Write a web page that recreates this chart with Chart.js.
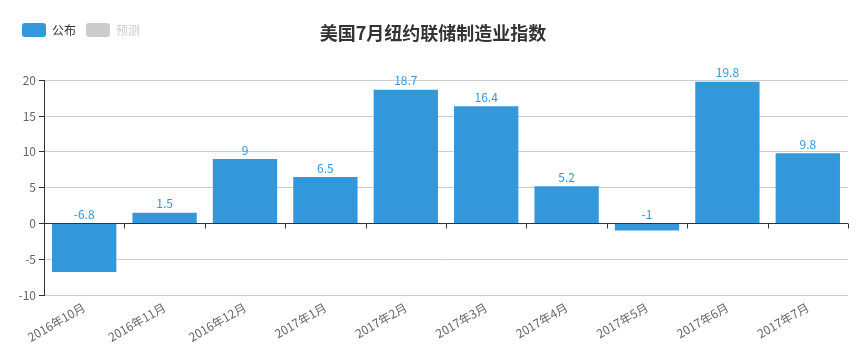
<!DOCTYPE html>
<html>
<head>
<meta charset="utf-8">
<script src="https://cdn.jsdelivr.net/npm/chart.js@4"></script>
<style>
  html, body { margin: 0; padding: 0; background: #fff; }
  #wrap { width: 855px; height: 359px; position: relative; }
</style>
</head>
<body>
<div id="wrap"><canvas id="chart"></canvas></div>
<script>
const title = "美国7月纽约联储制造业指数";
const months = ["2016年10月", "2016年11月", "2016年12月", "2017年1月", "2017年2月",
  "2017年3月", "2017年4月", "2017年5月", "2017年6月", "2017年7月"];
const published = [-6.8, 1.5, 9, 6.5, 18.7, 16.4, 5.2, -1, 19.8, 9.8];
const forecast = [];
const yTicks = [-10, -5, 0, 5, 10, 15, 20];

const FONT = "'Microsoft YaHei', 'Noto Sans CJK SC', sans-serif";
const BLUE = "#3398DB";

// value labels above each bar (negatives sit on the zero line)
const valueLabels = {
  id: "valueLabels",
  afterDatasetsDraw(chart) {
    const ctx = chart.ctx;
    const y = chart.scales.y;
    const meta = chart.getDatasetMeta(0);
    ctx.save();
    ctx.font = "12px " + FONT;
    ctx.fillStyle = BLUE;
    ctx.textAlign = "center";
    ctx.textBaseline = "bottom";
    meta.data.forEach((bar, i) => {
      const v = published[i];
      ctx.fillText(String(v), bar.x, y.getPixelForValue(Math.max(v, 0)) - 3);
    });
    ctx.restore();
  }
};

// x axis line drawn at zero with ticks between categories
const zeroAxis = {
  id: "zeroAxis",
  afterDatasetsDraw(chart) {
    const ctx = chart.ctx;
    const x = chart.scales.x, y = chart.scales.y;
    const y0 = Math.round(y.getPixelForValue(0)) + 0.5;
    const w = x.width / months.length;
    ctx.save();
    ctx.strokeStyle = "#333";
    ctx.lineWidth = 1;
    ctx.beginPath();
    ctx.moveTo(x.left, y0);
    ctx.lineTo(x.right, y0);
    for (let k = 1; k <= months.length; k++) {
      const px = Math.round(x.left + k * w) + 0.5;
      ctx.moveTo(px, y0);
      ctx.lineTo(px, y0 + 5);
    }
    ctx.stroke();
    ctx.restore();
  }
};

const titleText = {
  id: "titleText",
  afterDraw(chart) {
    const ctx = chart.ctx;
    ctx.save();
    ctx.font = "bold 18px " + FONT;
    ctx.fillStyle = "#333";
    ctx.textAlign = "center";
    ctx.textBaseline = "middle";
    ctx.fillText(title, 433, 33);
    ctx.restore();
  }
};

new Chart(document.getElementById("chart"), {
  type: "bar",
  data: {
    labels: months,
    datasets: [{
      label: "公布",
      data: published,
      backgroundColor: BLUE,
      categoryPercentage: 0.8,
      barPercentage: 1
    }, {
      label: "预测",
      data: forecast,
      backgroundColor: "#ccc",
      hidden: true
    }]
  },
  options: {
    responsive: true,
    maintainAspectRatio: false,
    animation: false,
    layout: { padding: { left: 12, right: 7, top: 13, bottom: 0 } },
    plugins: {
      title: { display: false },
      // empty spacer between the legend row and the plot
      subtitle: {
        display: true,
        text: "",
        weight: 500,
        font: { size: 12 },
        padding: { top: 0, bottom: 19 }
      },
      tooltip: { enabled: false },
      legend: {
        position: "top",
        align: "start",
        labels: {
          boxWidth: 24,
          boxHeight: 14,
          useBorderRadius: true,
          borderRadius: 3,
          padding: 10,
          font: { size: 12, family: FONT },
          generateLabels: (chart) => chart.data.datasets.map((ds, i) => ({
            text: ds.label,
            fillStyle: i === 0 ? BLUE : "#ccc",
            strokeStyle: "rgba(0,0,0,0)",
            lineWidth: 0,
            hidden: false,
            fontColor: i === 0 ? "#333" : "#ccc",
            borderRadius: 3,
            datasetIndex: i
          }))
        },
        onClick: () => {}
      }
    },
    scales: {
      x: {
        offset: true,
        grid: { display: false },
        border: { display: false },
        ticks: {
          color: "#666",
          font: { size: 12, family: FONT },
          minRotation: 30,
          maxRotation: 30,
          padding: -3
        },
        afterFit: (s) => { s.height = 64; }
      },
      y: {
        min: -10,
        max: 20,
        afterBuildTicks: (s) => { s.ticks = yTicks.map(v => ({ value: v })); },
        grid: { color: "#ccc", tickColor: "#333", tickLength: 5 },
        border: { display: true, color: "#333" },
        ticks: {
          color: "#666",
          font: { size: 12, family: FONT },
          padding: 3
        },
        afterFit: (s) => { s.width = 32; }
      }
    }
  },
  plugins: [valueLabels, zeroAxis, titleText]
});
</script>
</body>
</html>
